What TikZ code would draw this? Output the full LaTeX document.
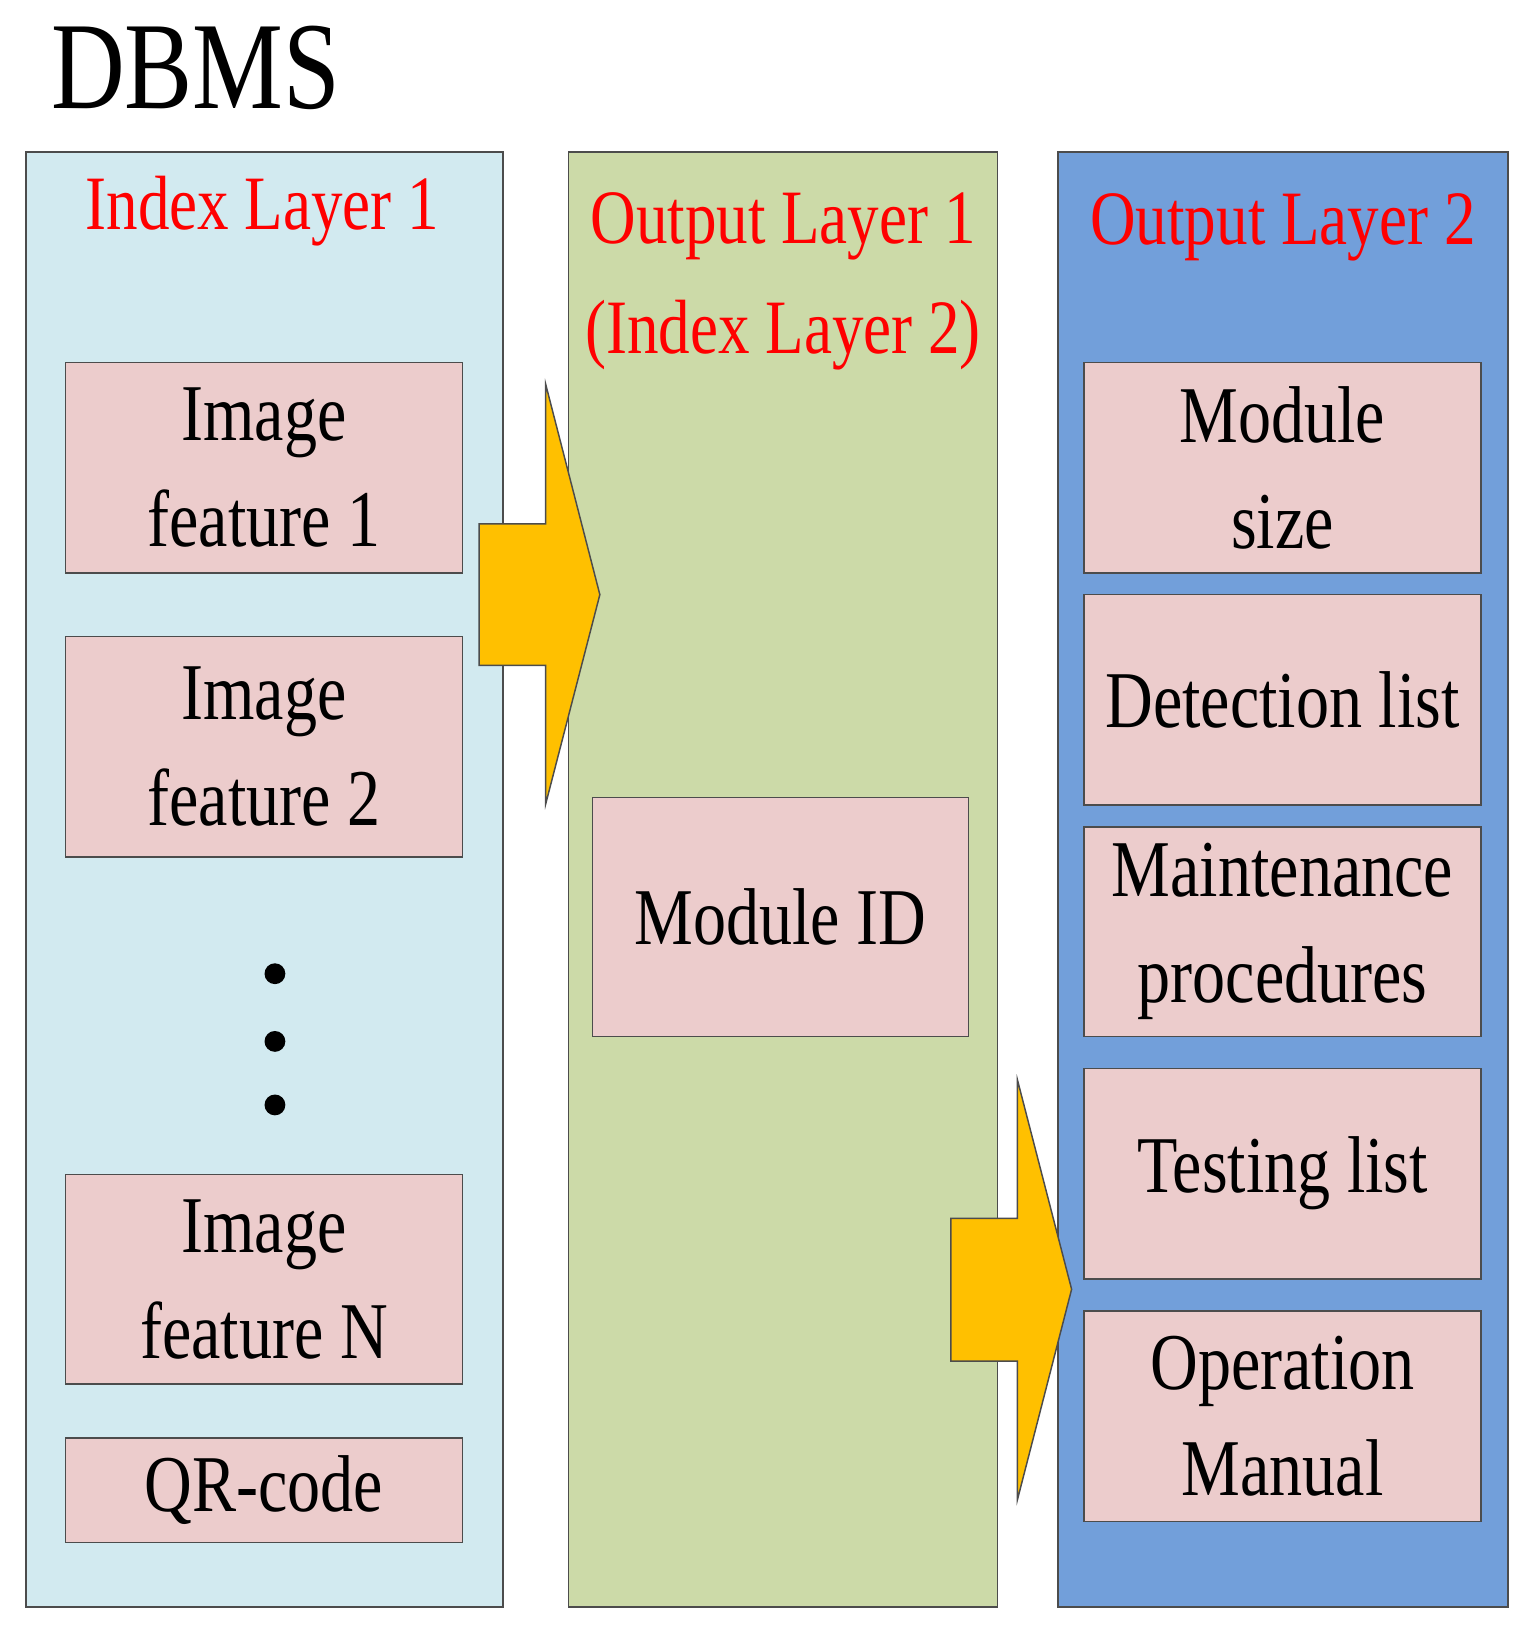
\documentclass[tikz,border=0pt]{standalone}
\usepackage{fontspec}
\setmainfont{Liberation Serif}[FakeStretch=0.82]
\usetikzlibrary{positioning}
\definecolor{panelblue}{RGB}{210,234,240}
\definecolor{panelgreen}{RGB}{204,218,168}
\definecolor{paneldark}{RGB}{114,159,218}
\definecolor{boxpink}{RGB}{236,204,204}
\definecolor{arrowgold}{RGB}{255,192,0}
\tikzset{
  panel/.style={draw=black!70, line width=0.4pt},
  item/.style={draw=black!70, fill=boxpink, line width=0.4pt, align=center,
    font=\fontsize{22}{29}\selectfont, inner sep=0pt},
  title/.style={text=red, font=\fontsize{21}{30}\selectfont, align=center},
  bigarrow/.style={fill=arrowgold, draw=black!70, line width=0.4pt}
}
\begin{document}
\begin{tikzpicture}[x=0.01cm, y=-0.01cm]
  \useasboundingbox (0,0) rectangle (1475,1570);

  % heading
  \node [font=\fontsize{34}{40}\selectfont] (dbms) at (188,65) {DBMS};

  % panels
  \draw [panel, fill=panelblue]  (25,146)  rectangle (483,1543);
  \draw [panel, fill=panelgreen] (546,146) rectangle (958,1543);
  \draw [panel, fill=paneldark]  (1016,146) rectangle (1448,1543);

  % panel titles
  \node [title] (t1) at (252,203) {Index Layer 1};
  \node [title] (t2) at (752,270) {Output Layer 1\\(Index Layer 2)};
  \node [title] (t3) at (1232,218) {Output Layer 2};

  % index layer 1
  \node [item, minimum width=381\pgflinewidth*0+3.81cm, minimum height=2.02cm] (if1) at (253.5,449) {Image\\feature 1};
  \node [item, minimum width=3.81cm, minimum height=2.12cm] (if2) at (253.5,717) {Image\\feature 2};
  \node [item, minimum width=3.81cm, minimum height=2.01cm] (ifn) at (253.5,1228.5) {Image\\feature N};
  \node [item, minimum width=3.81cm, minimum height=1.00cm] (qr) at (253.5,1431) {QR-code};
  \foreach \d in {935,1000,1061}
    \fill (264,\d) circle (10);

  % output layer 1
  \node [item, minimum width=3.61cm, minimum height=2.29cm] (mid) at (749.5,880.5) {Module ID};

  % output layer 2
  \node [item, minimum width=3.81cm, minimum height=2.02cm] (msize) at (1231.5,449) {Module\\size};
  \node [item, minimum width=3.81cm, minimum height=2.02cm] (dlist) at (1231.5,672) {Detection list};
  \node [item, minimum width=3.81cm, minimum height=2.01cm] (mproc) at (1231.5,894.5) {Maintenance\\procedures};
  \node [item, minimum width=3.81cm, minimum height=2.02cm] (tlist) at (1231.5,1127) {Testing list};
  \node [item, minimum width=3.81cm, minimum height=2.02cm] (oman) at (1231.5,1360) {Operation\\Manual};

  % arrows
  \draw [bigarrow] (460,503) -- (524,503) -- (524,369) -- (576,571)
    -- (524,772) -- (524,639) -- (460,639) -- cycle;
  \draw [bigarrow] (913,1170) -- (977,1170) -- (977,1037) -- (1029,1238)
    -- (977,1440) -- (977,1307) -- (913,1307) -- cycle;
\end{tikzpicture}
\end{document}
